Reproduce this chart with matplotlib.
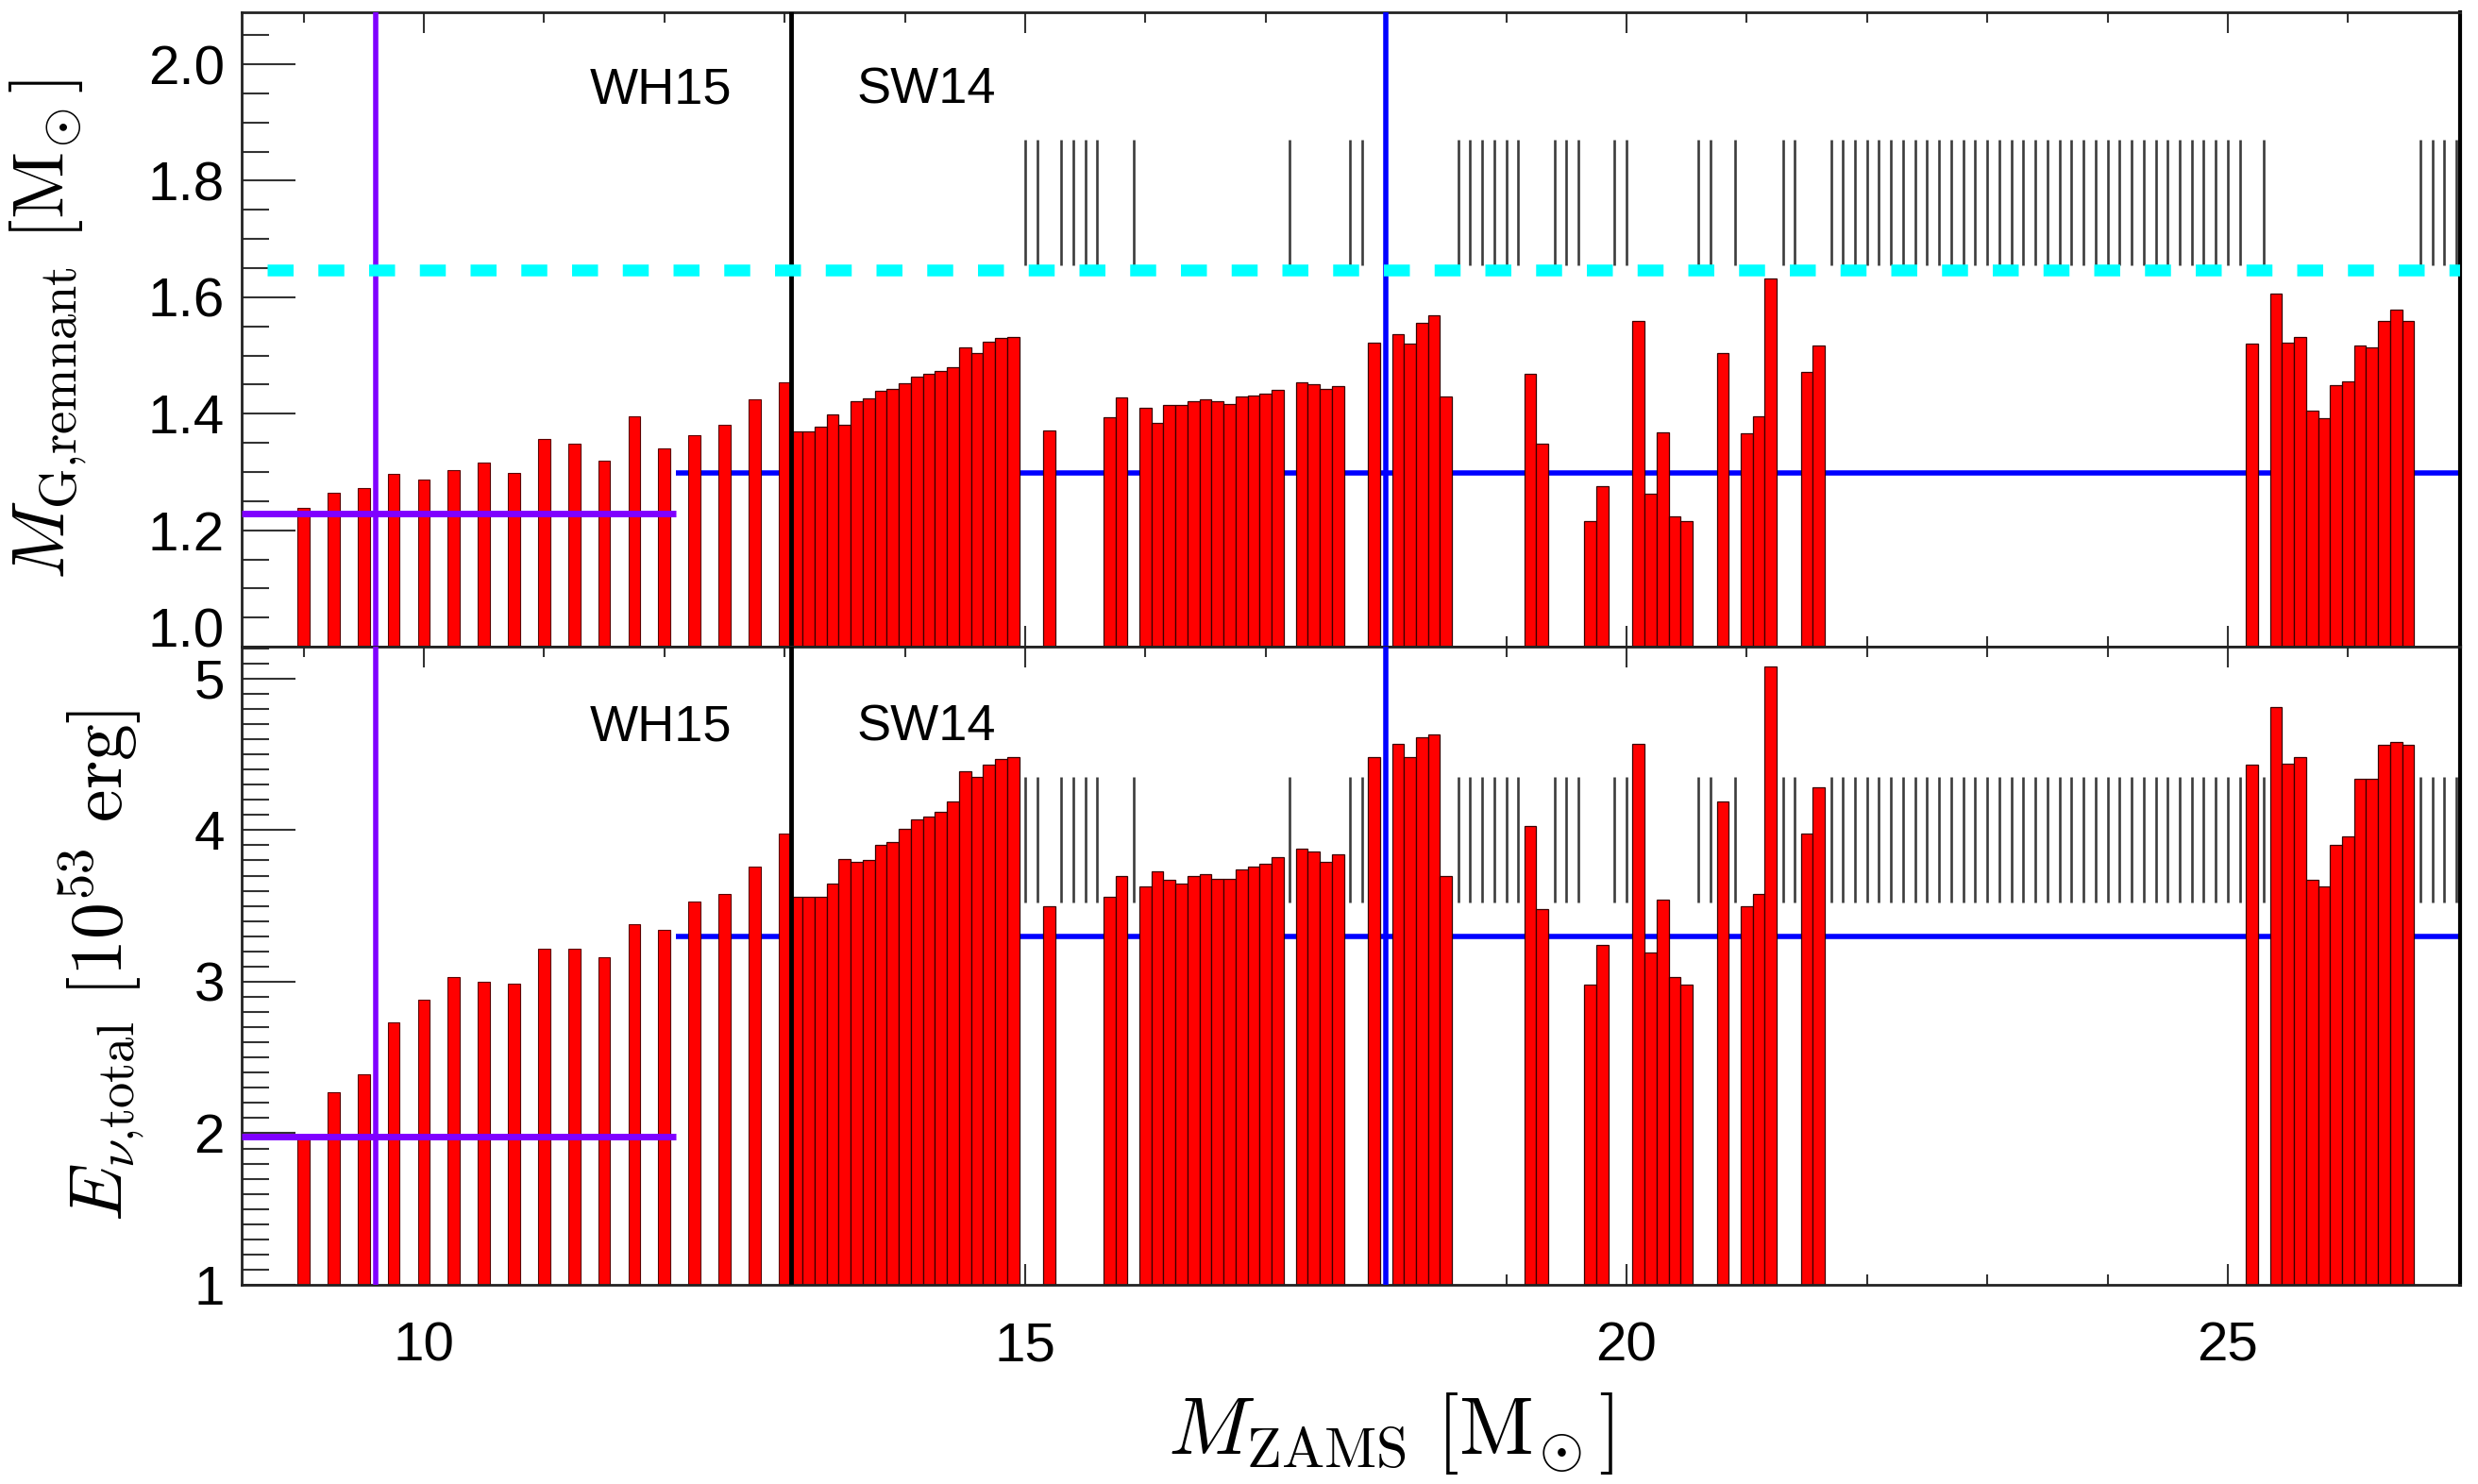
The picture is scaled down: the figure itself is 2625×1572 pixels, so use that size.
import matplotlib
matplotlib.use('Agg')
from matplotlib import pyplot as plt
from matplotlib.ticker import MultipleLocator, FormatStrFormatter

# WH15 models (0.25 Msun grid)
wh15_mass = [9.0, 9.25, 9.5, 9.75, 10.0, 10.25, 10.5, 10.75, 11.0, 11.25,
             11.5, 11.75, 12.0, 12.25, 12.5, 12.75, 13.0]
wh15_mg = [1.238, 1.265, 1.272, 1.296, 1.287, 1.303, 1.316, 1.299, 1.356, 1.348,
           1.320, 1.395, 1.341, 1.363, 1.381, 1.424, 1.454]
wh15_e = [1.99, 2.27, 2.39, 2.73, 2.88, 3.03, 3.00, 2.99, 3.22, 3.22,
          3.16, 3.38, 3.34, 3.53, 3.58, 3.76, 3.98]

# SW14 models that leave a neutron star
sw14_mass = [13.1, 13.2, 13.3, 13.4, 13.5, 13.6, 13.7, 13.8, 13.9, 14.0,
             14.1, 14.2, 14.3, 14.4, 14.5, 14.6, 14.7, 14.8, 14.9,
             15.2, 15.7, 15.8,
             16.0, 16.1, 16.2, 16.3, 16.4, 16.5, 16.6, 16.7, 16.8, 16.9, 17.0, 17.1,
             17.3, 17.4, 17.5, 17.6, 17.9,
             18.1, 18.2, 18.3, 18.4, 18.5,
             19.2, 19.3, 19.7, 19.8,
             20.1, 20.2, 20.3, 20.4, 20.5, 20.8,
             21.0, 21.1, 21.2, 21.5, 21.6,
             25.2, 25.4, 25.5, 25.6, 25.7, 25.8, 25.9, 26.0, 26.1, 26.2, 26.3, 26.4, 26.5]
sw14_mg = [1.370, 1.370, 1.377, 1.399, 1.381, 1.421, 1.426, 1.439, 1.442, 1.453,
           1.464, 1.468, 1.473, 1.480, 1.514, 1.504, 1.524, 1.530, 1.532,
           1.372, 1.394, 1.428,
           1.411, 1.384, 1.415, 1.415, 1.421, 1.424, 1.421, 1.417, 1.430, 1.431, 1.435, 1.441,
           1.454, 1.451, 1.442, 1.448, 1.522,
           1.536, 1.520, 1.556, 1.569, 1.430,
           1.469, 1.348, 1.215, 1.276,
           1.560, 1.262, 1.368, 1.223, 1.216, 1.504,
           1.366, 1.395, 1.632, 1.471, 1.517,
           1.520, 1.606, 1.522, 1.531, 1.406, 1.392, 1.449, 1.455, 1.517, 1.514, 1.560, 1.579, 1.560]
sw14_e = [3.56, 3.56, 3.56, 3.65, 3.81, 3.79, 3.80, 3.90, 3.92, 4.01,
          4.07, 4.09, 4.12, 4.19, 4.39, 4.35, 4.43, 4.47, 4.48,
          3.50, 3.56, 3.70,
          3.63, 3.73, 3.67, 3.65, 3.70, 3.71, 3.68, 3.68, 3.74, 3.76, 3.78, 3.82,
          3.88, 3.86, 3.79, 3.84, 4.48,
          4.57, 4.48, 4.61, 4.63, 3.70,
          4.03, 3.48, 2.98, 3.24,
          4.57, 3.19, 3.54, 3.03, 2.98, 4.19,
          3.50, 3.58, 5.08, 3.98, 4.28,
          4.43, 4.81, 4.44, 4.48, 3.67, 3.63, 3.90, 3.96, 4.34, 4.34, 4.56, 4.58, 4.56]

# SW14 models that form a black hole (grey marks)
bh_mass = [15.0, 15.1, 15.3, 15.4, 15.5, 15.6, 15.9, 17.2, 17.7, 17.8, 18.0,
           18.6, 18.7, 18.8, 18.9, 19.0, 19.1, 19.4, 19.5, 19.6, 19.9, 20.0,
           20.6, 20.7, 20.9, 21.3, 21.4,
           21.7, 21.8, 21.9, 22.0, 22.1, 22.2, 22.3, 22.4, 22.5, 22.6, 22.7, 22.8,
           22.9, 23.0, 23.1, 23.2, 23.3, 23.4, 23.5, 23.6, 23.7, 23.8, 23.9, 24.0,
           24.1, 24.2, 24.3, 24.4, 24.5, 24.6, 24.7, 24.8, 24.9, 25.0, 25.1,
           25.3, 26.6, 26.7, 26.8, 26.9]

# reference lines
purple_x = 9.6
split_x = 13.05
blue_x = 18.0
hline_split = 12.1
mg_purple, mg_blue, mg_max = 1.228, 1.298, 1.647
e_purple, e_blue = 1.98, 3.30
mg_bh_span = (1.655, 1.87)
e_bh_span = (3.52, 4.35)

mg_ticks = [1.0, 1.2, 1.4, 1.6, 1.8, 2.0]
e_ticks = [1, 2, 3, 4, 5]

xmin, xmax = 8.485, 26.93

plt.rcParams['mathtext.fontset'] = 'cm'
plt.rcParams['font.family'] = ['Liberation Sans', 'DejaVu Sans']

fig = plt.figure(figsize=(26.25, 15.72), dpi=100)
ax1 = fig.add_axes([0.0975, 0.5642, 0.8952, 0.4278])
ax2 = fig.add_axes([0.0975, 0.1342, 0.8952, 0.4300], sharex=ax1)

panels = [(ax1, wh15_mg, sw14_mg, mg_purple, mg_blue, mg_bh_span, 1.955),
          (ax2, wh15_e, sw14_e, e_purple, e_blue, e_bh_span, 4.68)]

for ax, wh, sw, yp, yb, span, ty in panels:
    ax.bar(wh15_mass, wh, width=0.1, color='red', edgecolor='#5a0000', linewidth=0.8, zorder=2)
    ax.bar(sw14_mass, sw, width=0.1, color='red', edgecolor='#3a0000', linewidth=0.9, zorder=2)
    ax.vlines(bh_mass, span[0], span[1], color='#3c3c3c', linewidth=1.9, zorder=2)
    ax.hlines(yb, hline_split, xmax, color='blue', linewidth=4, zorder=1)
    ax.hlines(yp, xmin, hline_split, color='#7f00ff', linewidth=5, zorder=3)
    ax.axvline(purple_x, color='#7f00ff', linewidth=4, zorder=3)
    ax.axvline(split_x, color='black', linewidth=3.5, zorder=3)
    ax.axvline(blue_x, color='blue', linewidth=4, zorder=3)
    ax.text(11.38, ty, 'WH15', fontsize=39, ha='left', va='center', zorder=4)
    ax.text(13.60, ty, 'SW14', fontsize=39, ha='left', va='center', zorder=4)

# maximum NS mass line
ax1.hlines(mg_max, 8.7, xmax, color='cyan', linewidth=9, linestyles=(0, (2.2, 2.1)), zorder=3)

# axis formatting
for ax in (ax1, ax2):
    ax.set_xlim(xmin, xmax)
    ax.xaxis.set_major_locator(MultipleLocator(5))
    ax.xaxis.set_minor_locator(MultipleLocator(1))
    ax.tick_params(axis='both', which='both', direction='in', width=1.5, color='#333333')
    ax.tick_params(axis='x', which='both', top=True, bottom=True)
    ax.tick_params(axis='x', which='major', length=16, pad=28, labelsize=42)
    ax.tick_params(axis='x', which='minor', length=8)
    ax.tick_params(axis='y', which='both', left=True, right=False)
    ax.tick_params(axis='y', which='major', length=41, pad=13, labelsize=42)
    ax.tick_params(axis='y', which='minor', length=21)
    for s in ax.spines.values():
        s.set_linewidth(2)
        s.set_color('#222222')
    ax.spines['right'].set_color('black')
    ax.spines['right'].set_linewidth(3)

ax1.tick_params(axis='x', labelbottom=False)
ax1.set_yticks(mg_ticks)
ax1.set_ylim(1.0, 2.09)
ax1.yaxis.set_minor_locator(MultipleLocator(0.05))
ax1.yaxis.set_major_formatter(FormatStrFormatter('%.1f'))

ax2.set_yticks(e_ticks)
ax2.set_ylim(1.0, 5.21)
ax2.yaxis.set_minor_locator(MultipleLocator(0.1))

# lift the lowest label of the top panel so it clears the "5" below
ax1.yaxis.get_major_ticks()[0].label1.set_verticalalignment('baseline')

ax1.set_ylabel(r'$M_{\rm G{,}remnant}\ [{\rm M}_{\!\odot}]$', fontsize=56)
ax1.yaxis.set_label_coords(-0.069, 0.5)
ax2.set_ylabel(r'$E_{\nu{,}{\rm total}}\ [10^{53}\ {\rm erg}]$', fontsize=56)
ax2.yaxis.set_label_coords(-0.042, 0.5)
ax2.set_xlabel(r'$M_{\rm ZAMS}\ [{\rm M}_{\!\odot}]$', fontsize=62)
ax2.xaxis.set_label_coords(0.518, -0.166)

fig.savefig('out.png', dpi=100)
